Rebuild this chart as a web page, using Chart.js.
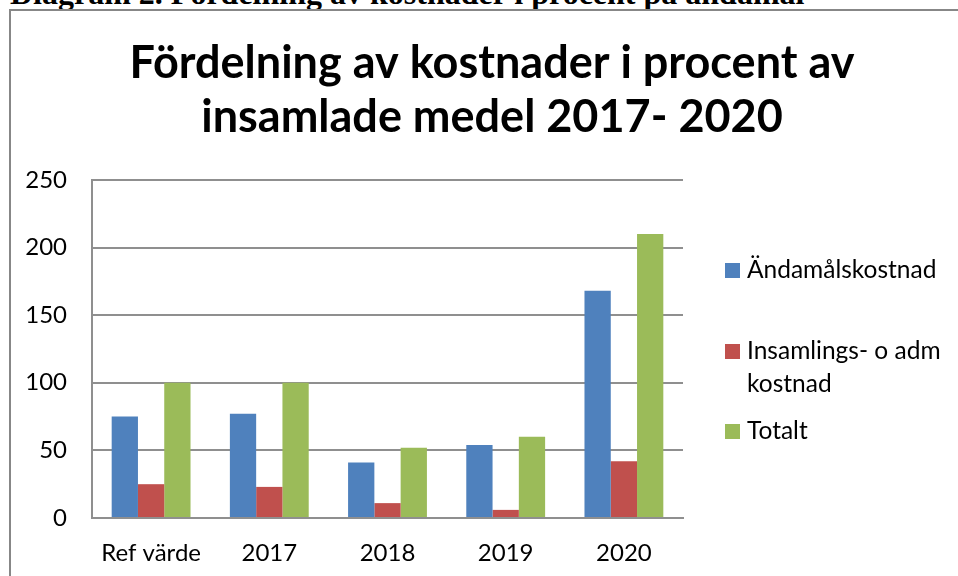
<!DOCTYPE html>
<html>
<head>
<meta charset="utf-8">
<script src="https://cdn.jsdelivr.net/npm/chart.js@4.4.0/dist/chart.umd.min.js"></script>
<style>
body { margin: 0; width: 958px; height: 576px; overflow: hidden; background: #fff; position: relative; }
#heading { position: absolute; left: 10px; top: -23px; font: bold 32px/32px "Liberation Serif", serif; white-space: nowrap; color: #000; }
#frame { position: absolute; left: 9px; top: 9px; width: 1200px; height: 1200px; border: 2px solid #878787; }
#chart { position: absolute; left: 0; top: 0; z-index: 1; }
#legend { position: absolute; left: 725px; top: 252px; font: 24.5px Lato, sans-serif; color: #000; z-index: 2; }
.item { height: 80.5px; display: flex; align-items: flex-start; line-height: 33.5px; }
.swatch { width: 15px; height: 15px; margin-top: 11px; margin-right: 7px; flex: none; }
.label { width: 205px; }
</style>
</head>
<body>
<div id="heading">Diagram 2. Fördelning av kostnader i procent på ändamål</div>
<div id="frame"></div>
<canvas id="chart" width="958" height="576"></canvas>
<div id="legend"></div>
<script>
// values (percent)
const categories = ["Ref värde", "2017", "2018", "2019", "2020"];
const andamalskostnad = [75, 77, 41, 54, 168];
const insamlingskostnad = [25, 23, 11, 6, 42];
const totalt = [100, 100, 52, 60, 210];
const seriesNames = ["Ändamålskostnad", "Insamlings- o adm kostnad", "Totalt"];
const yTicks = [0, 50, 100, 150, 200, 250];

const colors = ["#4F81BD", "#C0504D", "#9BBB59"];
const gridColor = "#8f8f8f";
const font = "Lato, 'Open Sans', sans-serif";

const seriesValues = [andamalskostnad, insamlingskostnad, totalt];

const ctx = document.getElementById("chart").getContext("2d");

const chart = new Chart(ctx, {
    type: "bar",
    data: {
        labels: categories,
        datasets: seriesNames.map((name, i) => ({
            label: name,
            data: seriesValues[i],
            backgroundColor: colors[i],
            borderWidth: 0,
            categoryPercentage: 0.667,
            barPercentage: 1.0
        }))
    },
    options: {
        responsive: false,
        devicePixelRatio: 1,
        animation: false,
        // left padding shifts the title centre to where the original has it
        layout: { padding: { left: 26, right: 0, top: 0, bottom: 0 } },
        plugins: {
            legend: { display: false },
            tooltip: { enabled: false },
            title: {
                display: true,
                text: ["Fördelning av kostnader i procent av", "insamlade medel 2017- 2020"],
                color: "#000",
                font: { family: font, size: 45, weight: "bold", lineHeight: 1.21 },
                padding: { top: 36, bottom: 35 }
            }
        },
        scales: {
            x: {
                grid: { display: false, drawTicks: false },
                border: { display: true, color: gridColor, width: 2 },
                ticks: { color: "#000", font: { family: font, size: 24 }, padding: 21, maxRotation: 0 },
                afterFit: scale => { scale.height = 58; }
            },
            y: {
                min: 0,
                max: 250,
                afterBuildTicks: scale => { scale.ticks = yTicks.map(v => ({ value: v })); },
                grid: { color: gridColor, lineWidth: 2, drawTicks: false },
                border: { display: true, color: gridColor, width: 2 },
                ticks: { color: "#000", font: { family: font, size: 24 }, padding: 25 },
                afterFit: scale => { scale.width = 66; }
            },
            // empty axis that keeps room for the legend on the right
            legendSpace: {
                type: "linear",
                position: "right",
                grid: { display: false, drawTicks: false },
                border: { display: false },
                ticks: { display: false },
                afterFit: scale => { scale.width = 275; }
            }
        }
    }
});

// html legend so the long label can wrap like the original
const legend = document.getElementById("legend");
chart.data.datasets.forEach(ds => {
    const item = document.createElement("div");
    item.className = "item";
    const swatch = document.createElement("div");
    swatch.className = "swatch";
    swatch.style.background = ds.backgroundColor;
    const label = document.createElement("div");
    label.className = "label";
    label.textContent = ds.label;
    item.appendChild(swatch);
    item.appendChild(label);
    legend.appendChild(item);
});
</script>
</body>
</html>
